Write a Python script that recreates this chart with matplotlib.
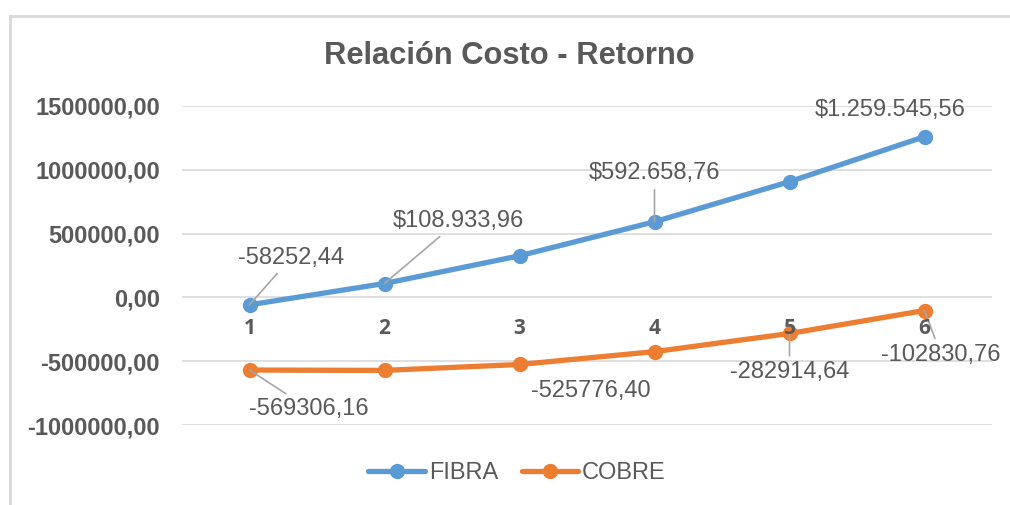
import matplotlib
matplotlib.use('Agg')
import matplotlib.pyplot as plt
from matplotlib.lines import Line2D

# datos
periodos = [1, 2, 3, 4, 5, 6]
fibra = [-58252.44, 108933.96, 326000.0, 592658.76, 907000.0, 1259545.56]
cobre = [-569306.16, -572000.0, -525776.40, -425000.0, -282914.64, -102830.76]
etiquetas_fibra = ['-58252,44', '$108.933,96', None, '$592.658,76', None, '$1.259.545,56']
etiquetas_cobre = ['-569306,16', None, '-525776,40', None, '-282914,64', '-102830,76']
yticks = [-1000000, -500000, 0, 500000, 1000000, 1500000]

gris = '#595959'
azul = '#5B9BD5'
naranja = '#ED7D31'
plt.rcParams['font.family'] = ['Liberation Sans', 'DejaVu Sans']

fig = plt.figure(figsize=(10.1, 5.05), dpi=100)
ax = fig.add_axes([182/1010, 80/505, 810/1010, 319/505])

ax.plot(periodos, fibra, color=azul, lw=3.8, marker='o', ms=10, solid_capstyle='round', label='FIBRA', zorder=3)
ax.plot(periodos, cobre, color=naranja, lw=3.8, marker='o', ms=10, solid_capstyle='round', label='COBRE', zorder=3)

ax.set_xlim(0.5, 6.5)
ax.set_ylim(-1000000, 1500000)
ax.set_yticks(yticks)
ax.set_yticklabels(['{:.2f}'.format(v).replace('.', ',') for v in yticks],
                   fontsize=17, fontweight='bold', color=gris)
ax.grid(axis='y', color='#D9D9D9', lw=1.2)
ax.set_axisbelow(True)
for s in ax.spines.values():
    s.set_visible(False)
ax.spines['bottom'].set_position(('data', 0))
ax.set_xticks(periodos)
ax.set_xticklabels([str(p) for p in periodos], fontsize=15, fontweight='bold',
                   color=gris, family=['Open Sans', 'DejaVu Sans'])
ax.xaxis.set_zorder(5)
ax.tick_params(axis='x', length=0, pad=15)
ax.tick_params(axis='y', length=0, pad=16)

# etiquetas de datos (desplazamiento en puntos, linea guia)
off_fibra = [(30, 34, True), (53, 45, True), None, (0, 35, True), None, (-25, 19, False)]
off_cobre = [(43, -28, True), None, (51, -19, False), None, (0, -28, True), (12, -32, True)]
for serie, etqs, offs in [(fibra, etiquetas_fibra, off_fibra), (cobre, etiquetas_cobre, off_cobre)]:
    for x, y, t, o in zip(periodos, serie, etqs, offs):
        if t is None:
            continue
        dx, dy, guia = o
        props = dict(arrowstyle='-', color='#A6A6A6', lw=1.2, shrinkA=2, shrinkB=0) if guia else None
        ax.annotate(t, xy=(x, y), xytext=(dx, dy), textcoords='offset points',
                    ha='center', va='center', fontsize=17, color=gris,
                    arrowprops=props, zorder=4)

fig.text(509/1010, 1 - 56/505, 'Relación Costo - Retorno', ha='center', va='center',
         fontsize=22.2, fontweight='bold', color=gris)

fig.legend(loc='center', bbox_to_anchor=(517/1010, 1 - 473/505), ncol=2, frameon=False,
           fontsize=17, handlelength=2.4, handletextpad=0.15, columnspacing=1.0,
           labelcolor=gris)

# borde del area del grafico
fig.add_artist(Line2D([9.5/1010, 9.5/1010], [0, 1 - 16/505], color='#D9D9D9', lw=2))
fig.add_artist(Line2D([9.5/1010, 1], [1 - 16/505, 1 - 16/505], color='#D9D9D9', lw=2))

fig.savefig('out.png', dpi=100)
